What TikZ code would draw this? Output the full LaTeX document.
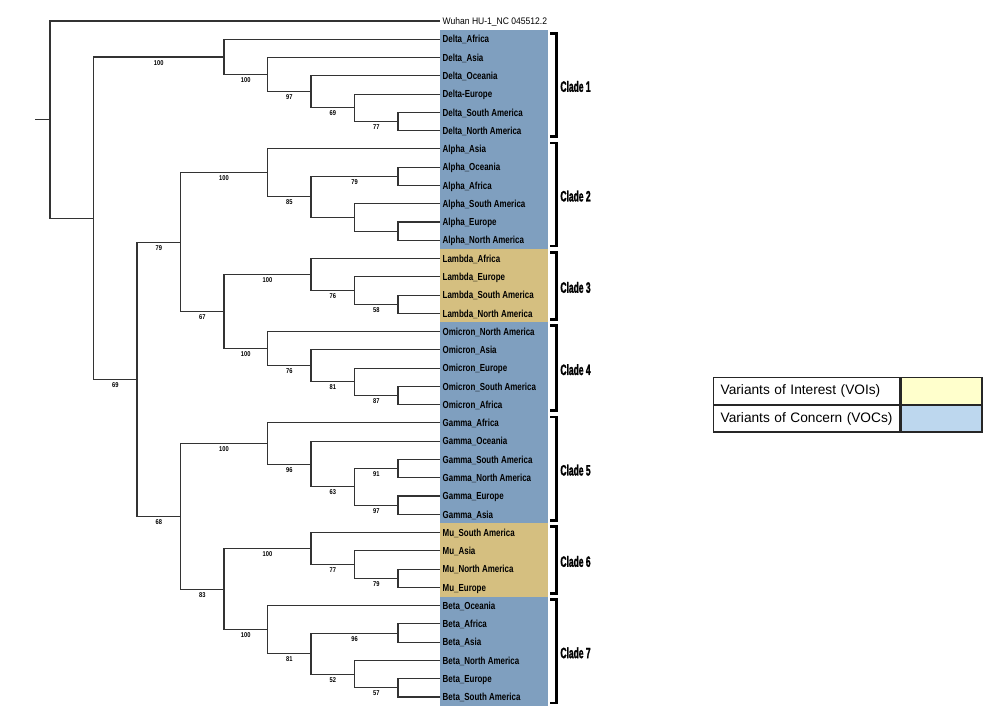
\documentclass[tikz,border=0pt]{standalone}
\usepackage{fontspec}
\setmainfont{Liberation Sans}
\newfontfamily\leaffont{Liberation Sans}[FakeStretch=0.78]
\newfontfamily\rootfont{Liberation Sans}[FakeStretch=0.9]
\newfontfamily\numfont{Liberation Sans}[FakeStretch=0.82]
\newfontfamily\cladefont{Liberation Sans}[FakeStretch=0.565, FakeBold=1.5]
\usepackage{tikz}
\usetikzlibrary{backgrounds}
\usetikzlibrary{calc}
\usetikzlibrary{positioning}

\definecolor{vocfill}{HTML}{7F9FBF}
\definecolor{voifill}{HTML}{D5BF80}
\definecolor{voikey}{HTML}{FFFFCC}
\definecolor{vockey}{HTML}{BDD7EE}

\begin{document}
\begin{tikzpicture}
  [
    x = 1pt, y = -1pt,
    branch/.style = {line width = 1.1pt, draw = black!80},
    leaf/.style = {anchor = west, inner xsep = 2.5pt, inner ysep = 1pt,
                  text height = 7.4pt, text depth = 0pt,
                  font = \leaffont\bfseries\fontsize{10.2}{12}\selectfont},
    lab/.style = {below, inner sep = 2.5pt, text height = 5pt, text depth = 0pt,
                  font = \numfont\bfseries\fontsize{7}{8}\selectfont},
    bracket/.style = {line width = 2.5pt, draw = black},
    clade/.style = {anchor = west, xshift = 1pt, yshift = -1.5pt, inner sep = 1.5pt,
                  font = \cladefont\bfseries\fontsize{15}{16}\selectfont},
    legtext/.style = {draw = black!85, line width = 1.3pt, text width = 172pt,
                  align = left, inner xsep = 7pt, minimum height = 26.5pt,
                  font = \fontsize{13.7}{16}\selectfont},
    legkey/.style = {draw = black!85, line width = 1.3pt, minimum width = 81pt,
                  minimum height = 26.5pt},
  ]

  \useasboundingbox (0,0) rectangle (1000,726);

  \node[leaf, font = \rootfont\fontsize{9.5}{11}\selectfont, text height = 6.8pt]
    (l0) at (440,21) {Wuhan HU-1\_NC 045512.2};
  \foreach \name [count=\i] in {Delta\_Africa, Delta\_Asia, Delta\_Oceania, Delta-Europe,
      Delta\_South America, Delta\_North America, Alpha\_Asia, Alpha\_Oceania,
      Alpha\_Africa, Alpha\_South America, Alpha\_Europe, Alpha\_North America,
      Lambda\_Africa, Lambda\_Europe, Lambda\_South America, Lambda\_North America,
      Omicron\_North America, Omicron\_Asia, Omicron\_Europe, Omicron\_South America,
      Omicron\_Africa, Gamma\_Africa, Gamma\_Oceania, Gamma\_South America,
      Gamma\_North America, Gamma\_Europe, Gamma\_Asia, Mu\_South America, Mu\_Asia,
      Mu\_North America, Mu\_Europe, Beta\_Oceania, Beta\_Africa, Beta\_Asia,
      Beta\_North America, Beta\_Europe, Beta\_South America}
    \node[leaf] (l\i) at (440,{21+18.27*\i}) {\name};

  \begin{scope}[on background layer]
    \foreach \a/\b/\c in {1/12/vocfill, 13/16/voifill, 17/27/vocfill, 28/31/voifill, 32/37/vocfill}
      \fill[\c] ([yshift=9.135pt]l\a.west) rectangle ([xshift=108pt,yshift=-9.135pt]l\b.west);
  \end{scope}

  \foreach \n/\x/\y in {d1/398/121.49, d2/354.5/107.78, d3/311/91.80, d4/267.5/74.67,
      delta/224/56.97, a1/398/176.30, a2/398/231.11, a3/354.5/217.40, a4/311/196.85,
      alpha/267.5/172.87, b1/398/304.19, b2/354.5/290.48, lambda/311/274.50,
      o1/398/395.54, o2/354.5/381.83, o3/311/365.85, omicron/267.5/348.72,
      lo/224/311.61, la/180.5/242.24, g1/398/468.62, g2/398/505.16, g3/354.5/486.89,
      g4/311/464.05, gamma/267.5/443.50, m1/398/578.24, m2/354.5/564.53, mu/311/548.55,
      e1/398/633.05, e2/398/687.86, e3/354.5/674.15, e4/311/653.60, beta/267.5/629.62,
      mb/224/589.09, gm/180.5/516.30, rest/137/379.27, ingroup/93.5/218.12,
      root/50/119.56, stub/35/119.56}
    \coordinate (\n) at (\x,\y);

  \draw[branch] (stub) -- (root);
  \foreach \p/\c in {root/0, delta/1, d4/2, d3/3, d2/4, d1/5, d1/6, alpha/7, a1/8, a1/9,
      a3/10, a2/11, a2/12, lambda/13, b2/14, b1/15, b1/16, omicron/17, o3/18, o2/19,
      o1/20, o1/21, gamma/22, g4/23, g1/24, g1/25, g2/26, g2/27, mu/28, m2/29, m1/30,
      m1/31, beta/32, e1/33, e1/34, e3/35, e2/36, e2/37}
    \draw[branch] (\p) |- (l\c.west);
  \foreach \p/\c in {root/ingroup, a4/a3, a3/a2}
    \draw[branch] (\p) |- (\c);
  \foreach \p/\c/\l in {ingroup/delta/100, ingroup/rest/69, delta/d4/100, d4/d3/97,
      d3/d2/69, d2/d1/77, rest/la/79, rest/gm/68, la/alpha/100, la/lo/67, alpha/a4/85,
      a4/a1/79, lo/lambda/100, lo/omicron/100, lambda/b2/76, b2/b1/58, omicron/o3/76,
      o3/o2/81, o2/o1/87, gm/gamma/100, gm/mb/83, gamma/g4/96, g4/g3/63, g3/g1/91,
      g3/g2/97, mb/mu/100, mb/beta/100, mu/m2/77, m2/m1/79, beta/e4/81, e4/e1/96,
      e4/e3/52, e3/e2/57}
    \draw[branch] (\p) |- node[lab, pos = .75] {\l} (\c);

  \foreach \a/\b/\k in {1/6/1, 7/12/2, 13/16/3, 17/21/4, 22/27/5, 28/31/6, 32/37/7}
    \draw[bracket] ([xshift=110pt,yshift=6pt]l\a.west) -- ++(6.7,0)
      |- node[clade, pos = .25] {Clade \k} ([xshift=110pt,yshift=-6pt]l\b.west);

  \node[legtext, anchor = north west] (voi) at (713,377) {Variants of Interest (VOIs)};
  \node[legkey, fill = voikey, right = 0pt of voi] (voikeybox) {};
  \node[legtext, below = 0pt of voi] (voc) {Variants of Concern (VOCs)};
  \node[legkey, fill = vockey, right = 0pt of voc] (vockeybox) {};

\end{tikzpicture}
\end{document}
